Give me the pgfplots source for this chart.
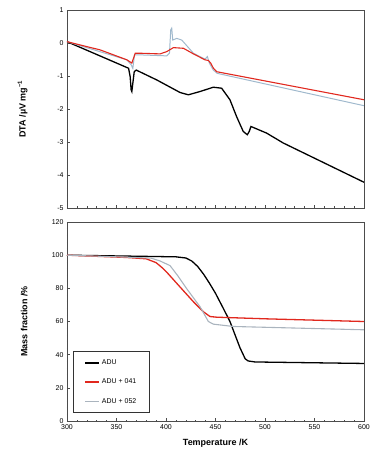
\documentclass[border=0pt]{standalone}
\usepackage{pgfplots}
\pgfplotsset{compat=1.18}
\usepackage{fontspec}
\setmainfont{Liberation Sans}
\definecolor{lightser}{RGB}{160,185,205}
\definecolor{lightleg}{RGB}{170,180,190}
\definecolor{redser}{RGB}{225,40,30}
\begin{document}
\begin{tikzpicture}
\path[use as bounding box] (-67bp,-451bp) rectangle (315bp,10bp);
\pgfplotsset{
  myax/.style={
    width=297bp, scale only axis,
    xmin=300, xmax=600,
    xtick={300,350,...,600},
    axis line style={gray!60!black, line width=0.8pt},
    tick style={gray!60!black, line width=0.5pt},
    tick align=inside,
    minor tick num=4,
    minor tick length=1.5pt,
    major tick length=3pt,
    ticklabel style={font=\fontsize{7}{8}\selectfont},
    /pgf/number format/assume math mode=true,
    ylabel style={font=\fontsize{9}{10}\selectfont\bfseries},
    xlabel style={font=\fontsize{9}{10}\selectfont\bfseries},
    ytick pos=left, xtick pos=bottom,
    clip=true,
  }
}
\begin{axis}[myax, at={(0,0)}, anchor=north west,
  height=198bp,
  ymin=-5, ymax=1, ytick={-5,...,1},
  xticklabels={},
  ylabel={DTA /µV mg\textsuperscript{−1}},
  ylabel style={at={(axis description cs:0,0.5)}, anchor=south, yshift=36bp},
]
\addplot[draw=black, line width=1.3pt] coordinates {
(300,0.04) (362.2,-0.765) (363.8,-1.02) (364.8,-1.42) (365.5,-1.47) (366.5,-1.22)
(367.9,-0.87) (369.9,-0.82) (390.7,-1.12) (414.2,-1.5) (422.6,-1.57) (434.4,-1.47)
(447.8,-1.34) (456.2,-1.37) (464.6,-1.72) (471.3,-2.23) (478,-2.68) (482.1,-2.78)
(484.1,-2.68) (485.8,-2.53) (501.6,-2.73) (518.4,-3.03) (600,-4.22)};
\addplot[draw=lightser, line width=1pt] coordinates {
(300,0.04) (360.5,-0.51) (364.8,-0.66) (366.5,-0.77) (368.2,-0.36) (373.9,-0.36)
(400.8,-0.39) (403.5,-0.31) (404.8,0.40) (405.8,0.45) (406.8,0.09) (410.9,0.14)
(415.9,0.09) (427.7,-0.31) (439.4,-0.49) (441.8,-0.41) (443.8,-0.61) (447.8,-0.82)
(451.8,-0.92) (600,-1.90)};
\addplot[draw=redser, line width=1.1pt] coordinates {
(300,0.04) (333.6,-0.21) (360.5,-0.51) (365.5,-0.61) (368.9,-0.31) (373.9,-0.31)
(394.1,-0.33) (400.8,-0.26) (407.5,-0.14) (417.6,-0.16) (427.7,-0.33) (439.4,-0.51)
(442.8,-0.53) (445.2,-0.61) (447.8,-0.76) (451.2,-0.87) (600,-1.72)};
\end{axis}
\begin{axis}[myax, at={(0,-212bp)}, anchor=north west,
  height=199bp,
  ymin=0, ymax=120, ytick={0,20,...,120},
  ylabel={Mass fraction /\%},
  ylabel style={at={(axis description cs:0,0.5)}, anchor=south, yshift=36bp},
  xlabel={Temperature /K},
  xlabel style={at={(axis description cs:0.5,0)}, anchor=north, yshift=-14bp},
  legend style={at={(rel axis cs:0.02,0.04)}, anchor=south west,
    font=\fontsize{7}{8}\selectfont,
    inner xsep=11pt, inner ysep=6pt, row sep=9pt,
    legend cell align=left},
  every axis legend/.append style={draw=gray!40!black, line width=0.8pt},
  legend image code/.code={\draw[#1, line width=1.5pt] (0cm,0cm) -- (0.5cm,0cm);},
]
\addplot[draw=black, line width=1.3pt] coordinates {
(300,100) (410,99) (420,98.3) (426,96.5) (432,93.2) (438,88.5) (444,83) (450,77)
(457.9,67.9) (464.6,60) (474.7,44.2) (480,37.5) (483,36.2) (490,35.6) (600,34.7)};
\addlegendentry{ADU}
\addplot[draw=redser, line width=1.3pt] coordinates {
(300,100) (360.5,98.6) (380,97.8) (390,95.5) (396,92.5) (400.8,89.7) (414.2,80.8) (427.7,71.9)
(437.7,65.9) (444.5,63.0) (451.2,62.6) (501.6,61.6) (600,60)};
\addlegendentry{ADU + 041}
\addplot[draw=lightleg, line width=1.1pt] coordinates {
(300,100) (360.5,98.8) (385,98.2) (394,96.5) (404.1,93.7) (412,87.5) (420.9,79.8) (434.4,68.9)
(442.8,60) (447.8,58.4) (468,57) (600,55)};
\addlegendentry{ADU + 052}
\end{axis}
\end{tikzpicture}
\end{document}
